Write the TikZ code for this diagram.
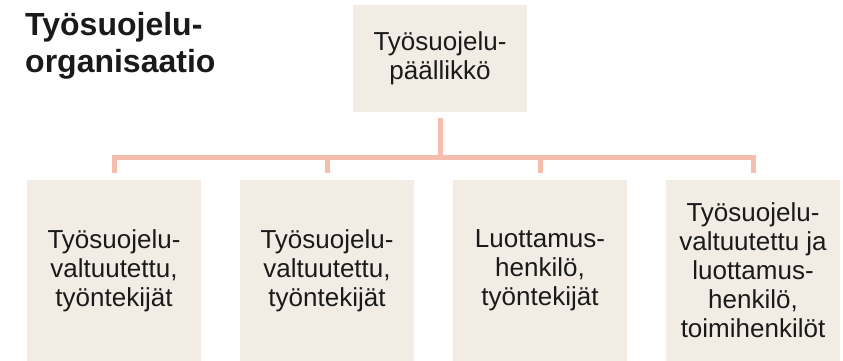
\documentclass[tikz,border=0pt]{standalone}
\usepackage{fontspec}
\setmainfont{Liberation Sans}
\definecolor{boxfill}{HTML}{F2ECE5}
\definecolor{linkcol}{HTML}{F5BEAC}
\definecolor{inkcol}{HTML}{1A1A1A}
\begin{document}
\begin{tikzpicture}[x=1pt,y=-1pt,
	orgbox/.style={fill=boxfill,draw=none,minimum width=174pt,inner sep=0pt,align=center,text=inkcol,font=\fontsize{26}{29}\selectfont},
	link/.style={draw=linkcol,line width=5pt,shorten <=6pt,shorten >=7pt}]
\useasboundingbox (0,0) rectangle (843,361);
\node[anchor=north west,inner sep=0pt,align=left,text=inkcol,font=\bfseries\fontsize{32}{37}\selectfont] (title) at (25,12) {Työsuojelu-\\organisaatio};
\node[orgbox,minimum height=107pt] (chief) at (440,58.5) {Työsuojelu-\\päällikkö};
\node[orgbox,minimum height=181pt] (rep1) at (114,270.5) {Työsuojelu-\\valtuutettu,\\työntekijät};
\node[orgbox,minimum height=181pt] (rep2) at (327,270.5) {Työsuojelu-\\valtuutettu,\\työntekijät};
\node[orgbox,minimum height=181pt] (rep3) at (540,270.5) {Luottamus-\\henkilö,\\työntekijät};
\node[orgbox,minimum height=181pt] (rep4) at (753,270.5) {Työsuojelu-\\valtuutettu ja\\luottamus-\\henkilö,\\toimihenkilöt};
\foreach \r in {rep1,rep2,rep3,rep4}
	\draw[link] (chief.south) -- ++(0,45) -| (\r.north);
\end{tikzpicture}
\end{document}
